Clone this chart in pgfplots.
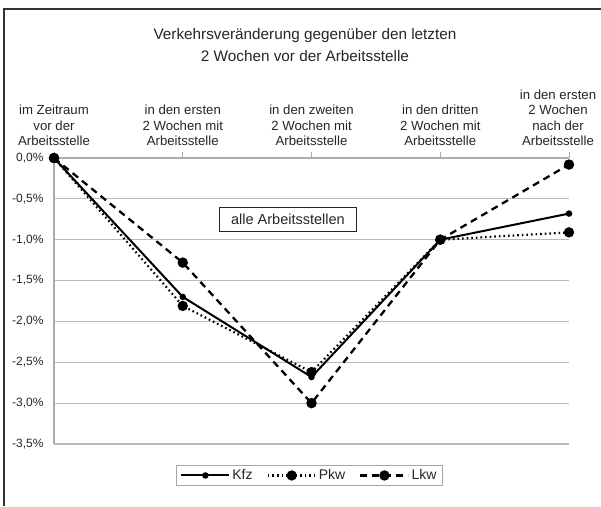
\documentclass[border=0pt]{standalone}
\usepackage{pgfplots}
\pgfplotsset{compat=1.18}
\usepackage{fontspec}
\setmainfont{Liberation Sans}
\begin{document}
\begin{tikzpicture}
\useasboundingbox (0pt,0pt) rectangle (601pt,-506pt);
\fill[white] (0pt,0pt) rectangle (601pt,-506pt);
\draw[line width=1.5pt, black!80] (4pt,-506pt) -- (4pt,-9pt) -- (601pt,-9pt);
\node[align=center, text=black!85, font=\fontsize{15.3}{22}\selectfont] at (305pt,-45pt) {Verkehrsveränderung gegenüber den letzten\\2 Wochen vor der Arbeitsstelle};
\begin{axis}[
  at={(54pt,-158pt)}, anchor=north west,
  scale only axis, width=515pt, height=286pt,
  xmin=0, xmax=4, ymin=-3.5, ymax=0,
  clip=false,
  axis x line*=top, axis y line*=left,
  axis line style={gray!65, line width=1.2pt},
  xtick={0,1,2,3},
  xticklabels={{im Zeitraum\\vor der\\Arbeitsstelle},{in den ersten\\2 Wochen mit\\Arbeitsstelle},{in den zweiten\\2 Wochen mit\\Arbeitsstelle},{in den dritten\\2 Wochen mit\\Arbeitsstelle}},
  extra x ticks={4},
  extra x tick labels={{in den ersten\\2 Wochen\\nach der\\Arbeitsstelle}},
  extra x tick style={xticklabel style={xshift=-11pt}, grid=none},
  xticklabel style={align=center, text=black!85, font=\fontsize{13.2}{15.2}\selectfont, anchor=south, yshift=3pt},
  x tick style={gray!65, line width=1pt},
  tick align=outside,
  major tick length=6pt,
  ytick={-3.5,-3,-2.5,-2,-1.5,-1,-0.5,0},
  yticklabels={{-3,5\%},{-3,0\%},{-2,5\%},{-2,0\%},{-1,5\%},{-1,0\%},{-0,5\%},{0,0\%}},
  yticklabel style={text=black!85, font=\fontsize{12}{14}\selectfont, xshift=-1pt},
  y tick style={draw=none},
  ymajorgrids,
  grid style={gray!55, line width=1.2pt},
  legend style={at={(0.496,-0.110)}, anchor=center, legend columns=3, draw=gray!70, line width=0.8pt, font=\fontsize{14}{16}\selectfont, text=black!85, inner xsep=4pt, inner ysep=2pt, /tikz/every even column/.append style={column sep=12pt}},
  legend image code/.code={\draw[mark repeat=2,mark phase=2,#1] plot coordinates {(0pt,0pt) (24pt,0pt) (48pt,0pt)};},
]
\addplot[black, line width=2pt, mark=*, mark size=2.2pt, mark options={solid}] coordinates {(0,0) (1,-1.7) (2,-2.68) (3,-1.0) (4,-0.68)};
\addlegendentry{Kfz}
\addplot[black, line width=2.2pt, dash pattern=on 1.6pt off 3pt, mark=*, mark size=4pt, mark options={solid}] coordinates {(0,0) (1,-1.81) (2,-2.62) (3,-1.0) (4,-0.91)};
\addlegendentry{Pkw}
\addplot[black, line width=2.3pt, dash pattern=on 7pt off 5pt, mark=*, mark size=4pt, mark options={solid}] coordinates {(0,0) (1,-1.28) (2,-3.0) (3,-1.0) (4,-0.08)};
\addlegendentry{Lkw}
\node[draw=black!85, line width=0.8pt, fill=white, font=\fontsize{14.5}{16}\selectfont, text=black!85, minimum width=137pt, minimum height=24pt, inner sep=2pt] at (axis cs:1.817,-0.746) {alle Arbeitsstellen};
\end{axis}
\end{tikzpicture}
\end{document}
